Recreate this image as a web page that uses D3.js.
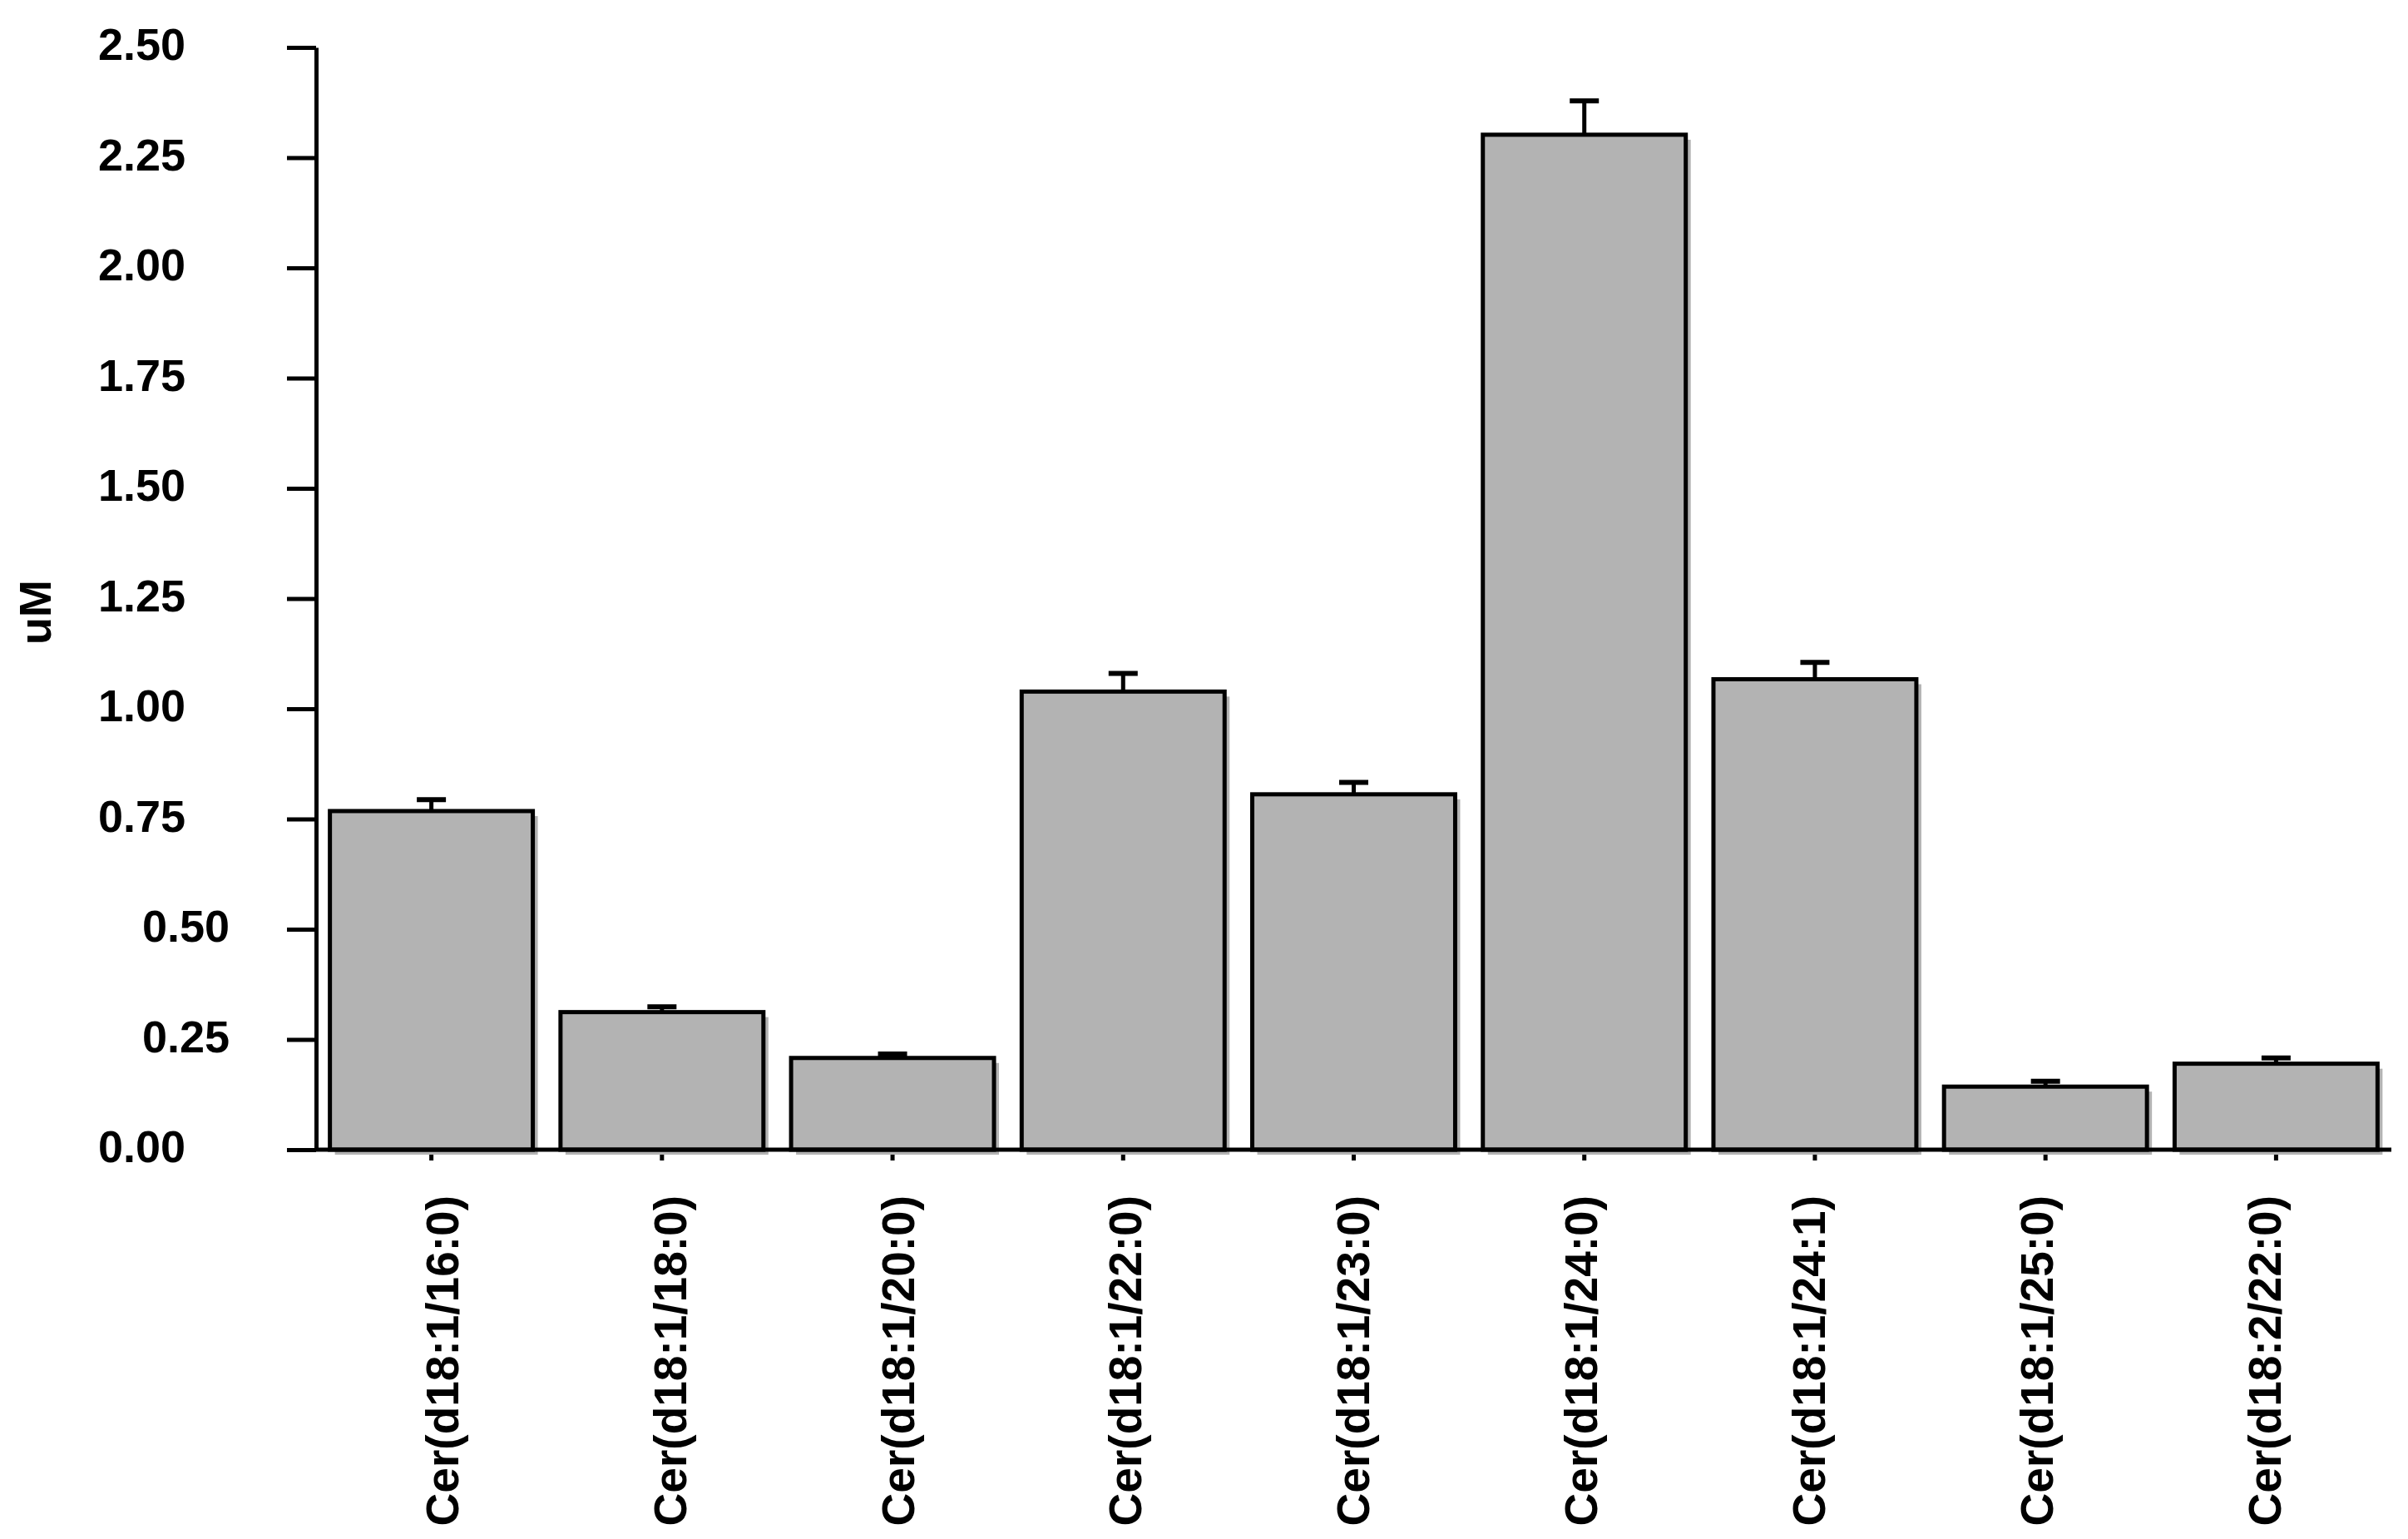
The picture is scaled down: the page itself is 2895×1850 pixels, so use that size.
<!DOCTYPE html>
<html>
<head>
<meta charset="utf-8">
<script src="https://cdn.jsdelivr.net/npm/d3@7/dist/d3.min.js"></script>
<style>
  html, body { margin: 0; padding: 0; background: #fff; }
  svg { display: block; }
  text { font-family: "Liberation Sans", Arial, Helvetica, sans-serif; font-weight: bold; fill: #000; }
</style>
</head>
<body>
<svg id="chart" width="2895" height="1850"></svg>
<script>
// ---- data ----
const categories = [
  "Cer(d18:1/16:0)", "Cer(d18:1/18:0)", "Cer(d18:1/20:0)",
  "Cer(d18:1/22:0)", "Cer(d18:1/23:0)", "Cer(d18:1/24:0)",
  "Cer(d18:1/24:1)", "Cer(d18:1/25:0)", "Cer(d18:2/22:0)"
];
const values = [0.768, 0.312, 0.208, 1.039, 0.806, 2.302, 1.067, 0.143, 0.195];
const errors = [0.026, 0.012, 0.009, 0.041, 0.027, 0.077, 0.038, 0.012, 0.013];
const yTicks = [0, 0.25, 0.5, 0.75, 1.0, 1.25, 1.5, 1.75, 2.0, 2.25, 2.5];
const yTickLabels = ["0.00", "0.25", "0.50", "0.75", "1.00", "1.25", "1.50", "1.75", "2.00", "2.25", "2.50"];
const yTitle = "uM";

// ---- layout ----
const svg = d3.select("#chart");
const axisX = 380, axisBottom = 1382, axisTop = 57, plotRight = 2875;
const barFill = "#b3b3b3", shadowFill = "#b3b3b3";
const shadowOff = 6;

const x = d3.scaleBand().domain(categories).range([axisX, plotRight])
  .paddingInner(0.12).paddingOuter(0.06);
const y = d3.scaleLinear().domain([0, 2.5]).range([axisBottom, axisTop]);
// category labels sit on a slightly tighter pitch than the bars in the original
const xLabel = d3.scalePoint().domain(categories).range([531, 2722]);

const data = categories.map((c, i) => ({ c, v: values[i], e: errors[i] }));

// x axis ticks (below the axis line)
const xAxis = svg.append("g").attr("transform", `translate(0,${axisBottom})`)
  .call(d3.axisBottom(x).tickSize(13).tickSizeOuter(0).tickFormat(""));
xAxis.select(".domain").remove();
xAxis.selectAll(".tick line").attr("stroke", "#000").attr("stroke-width", 5);

// shadows
svg.append("g").selectAll("rect").data(data).join("rect")
  .attr("x", d => x(d.c) + shadowOff)
  .attr("y", d => y(d.v) + shadowOff)
  .attr("width", x.bandwidth())
  .attr("height", d => y(0) - y(d.v))
  .attr("fill", shadowFill);

// bars
svg.append("g").selectAll("rect").data(data).join("rect")
  .attr("x", d => x(d.c))
  .attr("y", d => y(d.v))
  .attr("width", x.bandwidth())
  .attr("height", d => y(0) - y(d.v))
  .attr("fill", barFill)
  .attr("stroke", "#000")
  .attr("stroke-width", 5);

// error bars (upper only)
const eb = svg.append("g").selectAll("g").data(data).join("g");
eb.append("line")
  .attr("x1", d => x(d.c) + x.bandwidth() / 2)
  .attr("x2", d => x(d.c) + x.bandwidth() / 2)
  .attr("y1", d => y(d.v))
  .attr("y2", d => y(d.v + d.e))
  .attr("stroke", "#000").attr("stroke-width", 5);
eb.append("line")
  .attr("x1", d => x(d.c) + x.bandwidth() / 2 - 17.5)
  .attr("x2", d => x(d.c) + x.bandwidth() / 2 + 17.5)
  .attr("y1", d => y(d.v + d.e))
  .attr("y2", d => y(d.v + d.e))
  .attr("stroke", "#000").attr("stroke-width", 6);

// y axis
const yAxis = svg.append("g").attr("transform", `translate(${axisX},0)`)
  .call(d3.axisLeft(y).tickValues(yTicks).tickSize(35).tickSizeOuter(0).tickFormat(""));
yAxis.select(".domain").attr("stroke", "#000").attr("stroke-width", 5);
yAxis.selectAll(".tick line").attr("stroke", "#000").attr("stroke-width", 5);

// x axis line
svg.append("line")
  .attr("x1", axisX).attr("x2", plotRight)
  .attr("y1", axisBottom).attr("y2", axisBottom)
  .attr("stroke", "#000").attr("stroke-width", 5);

// y tick labels (0.25 and 0.50 sit further right in the original)
const indented = new Set(["0.25", "0.50"]);
svg.append("g").selectAll("text").data(yTicks).join("text")
  .attr("x", (d, i) => indented.has(yTickLabels[i]) ? 276 : 223)
  .attr("y", d => y(d))
  .attr("dy", "0.28em")
  .attr("text-anchor", "end")
  .attr("font-size", 54)
  .text((d, i) => yTickLabels[i]);

// x category labels (rotated)
svg.append("g").selectAll("text").data(categories).join("text")
  .attr("transform", d => `translate(${xLabel(d)},1437) rotate(-90)`)
  .attr("dy", "0.36em")
  .attr("text-anchor", "end")
  .attr("font-size", 55)
  .text(d => d);

// y title
svg.append("text")
  .attr("transform", "translate(42,736) rotate(-90)")
  .attr("dy", "0.36em")
  .attr("text-anchor", "middle")
  .attr("font-size", 54)
  .text(yTitle);
</script>
</body>
</html>
